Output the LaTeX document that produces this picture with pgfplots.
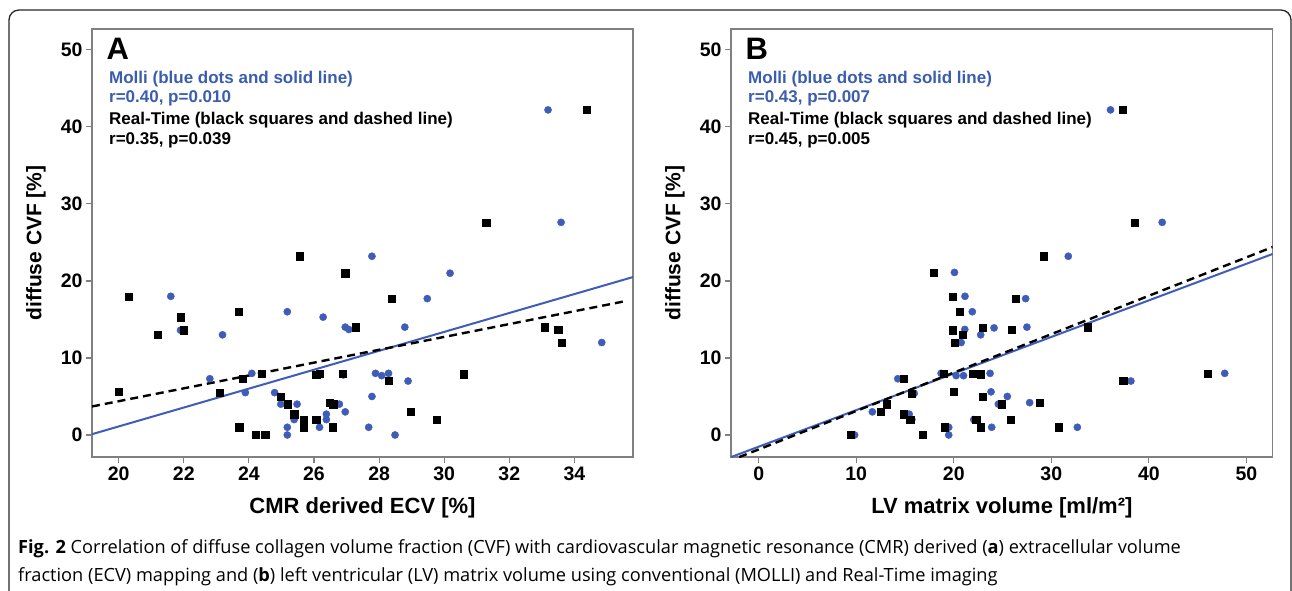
\documentclass[border=0pt]{standalone}
\usepackage{pgfplots}
\pgfplotsset{compat=1.18}
\usepackage{fontspec}
\setmainfont{Liberation Sans}
\newfontfamily\capfont{Open Sans}
\definecolor{mblue}{RGB}{63,92,184}
\definecolor{tblue}{RGB}{58,93,174}
\definecolor{framegray}{RGB}{128,128,128}

\pgfplotsset{panel/.style={
  scale only axis, height=428pt,
  ymin=-2.86, ymax=52.7, ytick={0,10,20,30,40,50},
  axis line style={draw=framegray, line width=1.4pt},
  tick style={draw=framegray, line width=1.2pt},
  major tick length=6pt, tick align=outside, tick pos=left,
  /pgf/number format/assume math mode=true,
  ticklabel style={font=\fontsize{19.5}{21}\selectfont\bfseries},
  x label style={font=\fontsize{22}{24}\selectfont\bfseries, at={(axis description cs:0.5,-0.119)},anchor=center},
  y label style={font=\fontsize{21}{23}\selectfont\bfseries, at={(axis description cs:-0.1035,0.5)},anchor=center},
  ylabel={diffuse CVF [\%]},
  clip=true,
},
bluedots/.style={only marks, mark=*, mark size=3.6pt, mark options={draw=mblue, fill=mblue}},
blacksq/.style={only marks, mark=square*, mark size=3.6pt, mark options={draw=black, fill=black}},
bluefit/.style={no marks, draw=mblue, line width=2pt},
blackfit/.style={no marks, draw=black, line width=2.4pt, dash pattern=on 8pt off 5pt},
}
\tikzset{txt/.style={anchor=base west, inner sep=0pt, font=\fontsize{17}{19}\selectfont\bfseries}}

\begin{document}
\begin{tikzpicture}
\draw[line width=1.3pt, rounded corners=10pt, color=black!85] (9pt,-5pt) -- (9pt,580pt) -- (1291pt,580pt) -- (1291pt,-5pt);

% Panel A
\begin{axis}[panel, at={(92pt,133pt)}, anchor=south west, width=541pt,
  xmin=19.18, xmax=35.8, xtick={20,22,24,26,28,30,32,34},
  xlabel={CMR derived ECV [\%]}]
\addplot[bluedots] coordinates {
(21.6,18.0) (21.9,13.6) (23.19,13.0) (22.8,7.3) (23.89,5.5) (24.09,8.0)
(24.79,5.5) (24.98,4.0) (25.18,16.0) (25.18,1.0) (25.18,0.0) (25.48,4.0)
(25.39,2.0) (26.28,15.3) (26.38,2.7) (26.38,2.0) (26.17,1.0) (26.78,4.0)
(26.96,3.0) (26.96,14.0) (27.07,13.7) (26.9,7.8) (27.78,23.2) (30.18,21.0)
(29.48,17.7) (28.79,14.0) (27.89,8.0) (28.08,7.7) (28.29,8.0) (28.89,7.0)
(27.78,5.0) (27.68,1.0) (28.49,0.0) (34.84,12.0) (33.19,42.2) (33.59,27.6)
};
\addplot[blacksq] coordinates {
(20.3,18.0) (20.0,5.6) (21.2,13.0) (21.9,15.3) (22.0,13.6) (23.68,16.0)
(23.8,7.3) (23.1,5.5) (23.7,1.0) (24.2,0.0) (24.5,0.0) (24.4,8.0)
(24.98,5.0) (25.18,4.0) (25.39,2.7) (25.68,2.0) (25.68,1.0) (25.57,23.2)
(26.07,2.0) (26.07,7.8) (26.17,8.0) (26.47,4.2) (26.59,4.0) (26.57,1.0)
(26.88,8.0) (26.96,21.0) (27.28,14.0) (28.38,17.7) (28.29,7.0) (28.98,3.0)
(29.78,2.0) (30.59,7.9) (33.09,14.0) (33.5,13.65) (33.6,12.0) (34.38,42.2)
(31.29,27.6)
};
\addplot[bluefit] coordinates {(19.18,0.1) (35.8,20.5)};
\addplot[blackfit] coordinates {(19.18,3.7) (35.6,17.4)};
\node[anchor=base west, font=\fontsize{31}{31}\selectfont\bfseries] at (axis description cs:0.0203,0.9276) {A};
\node[txt, text=tblue] at (axis description cs:0.0314,0.8738) {Molli (blue dots and solid line)};
\node[txt, text=tblue] at (axis description cs:0.0314,0.8283) {r=0.40, p=0.010};
\node[txt] at (axis description cs:0.0314,0.778) {Real-Time (black squares and dashed line)};
\node[txt] at (axis description cs:0.0314,0.7313) {r=0.35, p=0.039};
\end{axis}

% Panel B
\begin{axis}[panel, at={(731pt,133pt)}, anchor=south west, width=541.7pt,
  xmin=-2.84, xmax=52.7, xtick={0,10,20,30,40,50},
  xlabel={LV matrix volume [ml/m²]}]
\addplot[bluedots] coordinates {
(20.07,21.1) (21.15,18.0) (21.9,16.0) (21.13,13.7) (20.76,12.0) (22.76,13.0)
(14.26,7.3) (11.65,3.0) (15.43,2.7) (15.7,2.0) (15.95,5.4) (9.83,0.0)
(19.48,1.0) (19.48,0.0) (18.7,8.0) (20.24,7.7) (21.0,7.7) (22.05,2.0)
(31.74,23.2) (27.37,17.7) (24.13,13.9) (27.5,14.0) (23.72,8.0) (23.82,5.6)
(25.49,5.0) (24.57,4.0) (27.78,4.2) (23.89,1.0) (32.67,1.0) (38.16,7.0)
(47.78,8.0) (36.07,42.2) (41.37,27.6)
};
\addplot[blacksq] coordinates {
(17.94,21.1) (19.9,18.0) (20.6,16.0) (19.9,13.6) (20.9,13.0) (20.07,12.0)
(22.94,13.9) (14.85,7.3) (15.7,5.4) (13.1,4.0) (12.5,3.0) (14.85,2.7)
(15.53,2.0) (16.8,0.0) (9.42,0.0) (19.04,1.0) (18.93,8.0) (20.0,5.65)
(21.98,8.0) (22.8,7.9) (22.3,2.0) (22.94,5.0) (22.8,1.0) (29.25,23.2)
(26.35,17.7) (25.94,13.65) (33.69,14.0) (37.37,7.0) (46.04,8.0) (24.88,4.0)
(28.8,4.2) (25.8,2.0) (30.72,1.0) (37.33,42.2) (38.53,27.6)
};
\addplot[bluefit] coordinates {(-2.84,-2.87) (52.7,23.5)};
\addplot[blackfit] coordinates {(-2.0,-2.87) (52.7,24.4)};
\node[anchor=base west, font=\fontsize{31}{31}\selectfont\bfseries] at (axis description cs:0.0203,0.9276) {B};
\node[txt, text=tblue] at (axis description cs:0.0314,0.8738) {Molli (blue dots and solid line)};
\node[txt, text=tblue] at (axis description cs:0.0314,0.8283) {r=0.43, p=0.007};
\node[txt] at (axis description cs:0.0314,0.778) {Real-Time (black squares and dashed line)};
\node[txt] at (axis description cs:0.0314,0.7313) {r=0.45, p=0.005};
\end{axis}

\node[anchor=base west, inner sep=0pt, font=\capfont\fontsize{18.2}{20}\selectfont] at (18pt,37pt) {\textbf{Fig. 2} Correlation of diffuse collagen volume fraction (CVF) with cardiovascular magnetic resonance (CMR) derived (\textbf{a}) extracellular volume};
\node[anchor=base west, inner sep=0pt, font=\capfont\fontsize{18.2}{20}\selectfont] at (18pt,9pt) {fraction (ECV) mapping and (\textbf{b}) left ventricular (LV) matrix volume using conventional (MOLLI) and Real-Time imaging};

\pgfresetboundingbox
\path (0pt,0pt) rectangle (1292pt,590pt);
\end{tikzpicture}
\end{document}
